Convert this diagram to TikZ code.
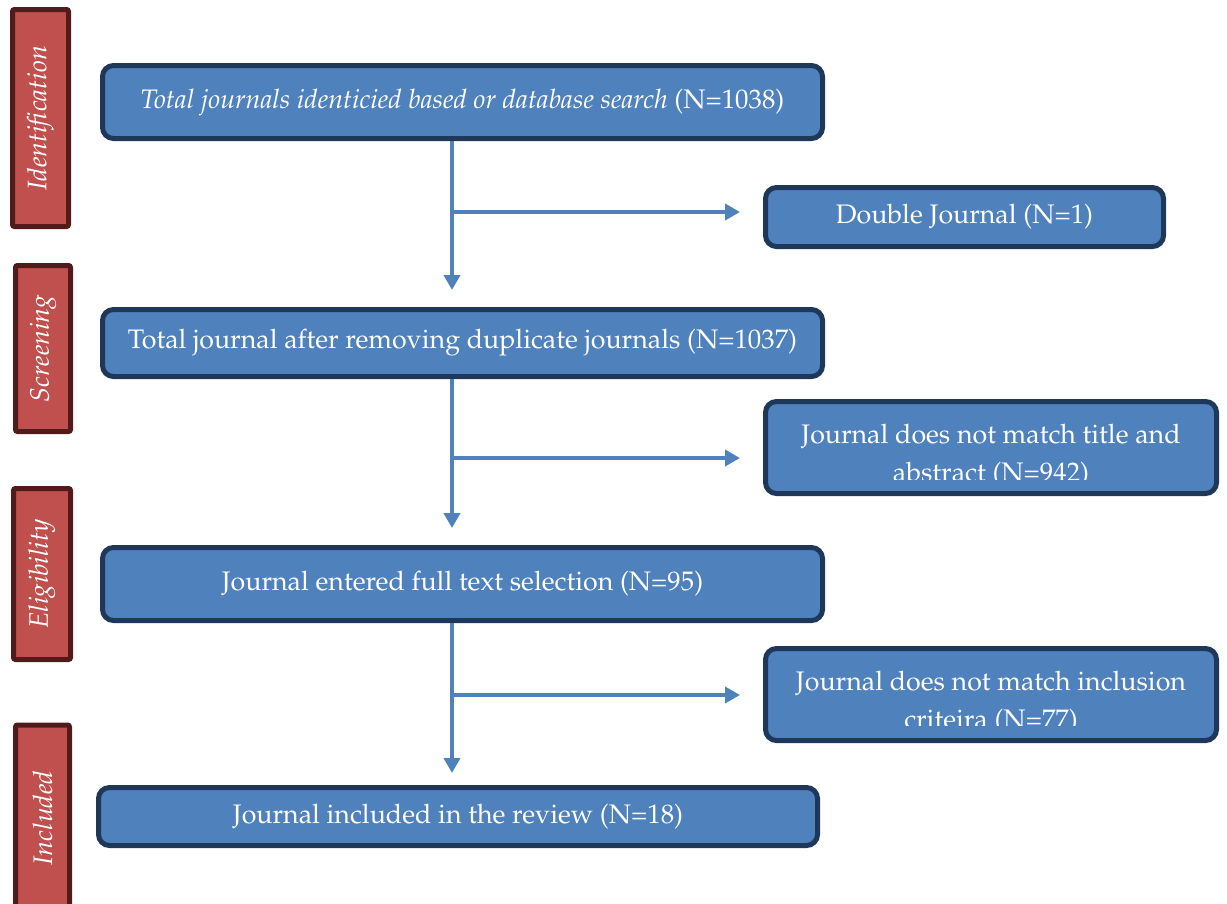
\documentclass[tikz,border=0pt]{standalone}
\usepackage[T1]{fontenc}
\usepackage{mathpazo}
\usetikzlibrary{arrows.meta,calc}
\definecolor{boxfill}{HTML}{4F81BD}
\definecolor{boxline}{HTML}{1F3859}
\definecolor{barfill}{HTML}{C0504D}
\definecolor{barline}{HTML}{521B1B}
\tikzset{
  stagebox/.style={draw=boxline, fill=boxfill, line width=5pt, rounded corners=11pt,
    text=white, font=\fontsize{26.8}{38}\selectfont, inner sep=0pt, align=center},
  phasebar/.style={draw=barline, fill=barfill, line width=5pt, rounded corners=2pt,
    text=white, font=\fontsize{26.8}{32}\selectfont\itshape, rotate=90, inner sep=0pt},
  flowarrow/.style={draw=boxfill, line width=4.8pt, -{Triangle[length=15pt,width=16pt]}},
  sidetext/.style={text=white, font=\fontsize{26.8}{38}\selectfont, align=center, anchor=base, inner sep=0pt},
}
\begin{document}
\begin{tikzpicture}[x=1pt,y=-1pt]
\useasboundingbox (0,0) rectangle (1227,903);
% phase bars
\node[phasebar, minimum width=217pt, minimum height=56pt] (p1) at (40.5,118) {Identification};
\node[phasebar, minimum width=166pt, minimum height=55pt] (p2) at (43,348.5) {Screening};
\node[phasebar, minimum width=171pt, minimum height=57pt] (p3) at (42,574) {Eligibility};
\node[phasebar, minimum width=186pt, minimum height=54pt] (p4) at (42.5,818) {Included};
% main boxes
\node[stagebox, minimum width=720pt, minimum height=73pt] (b1) at (462.5,102)
  {\itshape Total journals identicied based or database search\upshape{} (N=1038)};
\node[stagebox, minimum width=720pt, minimum height=67pt] (b2) at (462.5,343)
  {Total journal after removing duplicate journals (N=1037)};
\node[stagebox, minimum width=720pt, minimum height=73pt] (b3) at (462.5,584)
  {Journal entered full text selection (N=95)};
\node[stagebox, minimum width=719pt, minimum height=58pt] (b4) at (458,816.5)
  {Journal included in the review (N=18)};
% side boxes
\node[stagebox, minimum width=398pt, minimum height=59pt] (d1) at (964.5,217)
  {Double Journal (N=1)};
\node[stagebox, minimum width=451pt, minimum height=92pt] (d2) at (991,447.5) {};
\begin{scope}
  \clip (d2.west |- 0,402) rectangle (d2.east |- 0,479);
  \node[sidetext] (t2) at (991,481)
    {Journal does not match title and\\abstract (N=942)};
\end{scope}
\node[stagebox, minimum width=451pt, minimum height=92pt] (d3) at (991,694.5) {};
\begin{scope}
  \clip (d3.west |- 0,649) rectangle (d3.east |- 0,725);
  \node[sidetext] (t3) at (991,728)
    {Journal does not match inclusion\\criteira (N=77)};
\end{scope}
% connectors
\coordinate (j1) at (452,212);
\coordinate (j2) at (452,458);
\coordinate (j3) at (452,695);
\draw[flowarrow, shorten >=17pt] (b1.south -| j1) -- (b2.north -| j1);
\draw[flowarrow, shorten >=23pt] (j1) -- (j1 -| d1.west);
\draw[flowarrow, shorten >=17pt] (b2.south -| j2) -- (b3.north -| j2);
\draw[flowarrow, shorten >=23pt] (j2) -- (j2 -| d2.west);
\draw[flowarrow, shorten >=12pt] (b3.south -| j3) -- (b4.north -| j3);
\draw[flowarrow, shorten >=23pt] (j3) -- (j3 -| d3.west);
\end{tikzpicture}
\end{document}
